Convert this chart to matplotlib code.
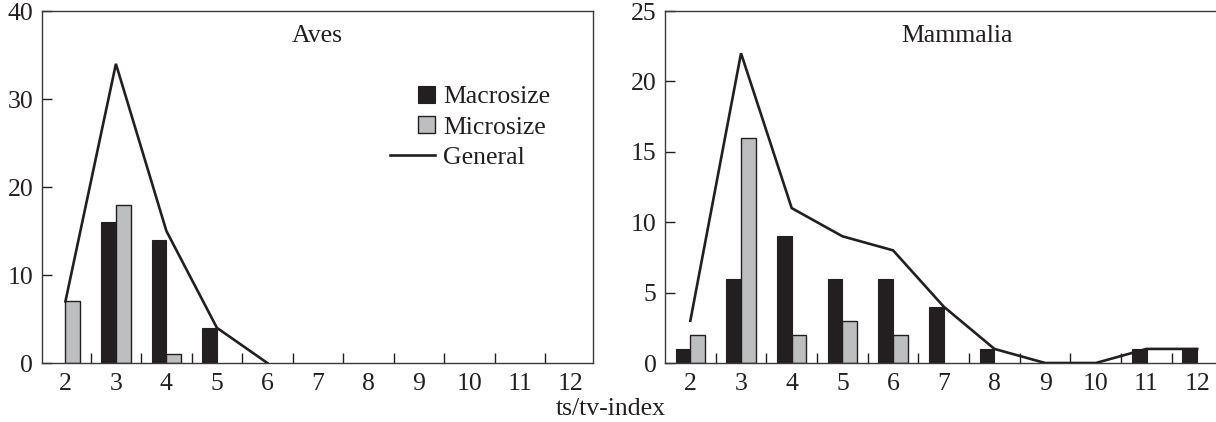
import numpy as np
import matplotlib
matplotlib.use("Agg")
import matplotlib.pyplot as plt
from matplotlib.patches import Rectangle, Patch
from matplotlib.lines import Line2D
from matplotlib.legend_handler import HandlerPatch

# ---- data ----
x_index = [2, 3, 4, 5, 6, 7, 8, 9, 10, 11, 12]
aves_macro = [0, 16, 14, 4, 0, 0, 0, 0, 0, 0, 0]
aves_micro = [7, 18, 1, 0, 0, 0, 0, 0, 0, 0, 0]
aves_general_x = [2, 3, 4, 5, 6]
aves_general = [7, 34, 15, 4, 0]

mam_macro = [1, 6, 9, 6, 6, 4, 1, 0, 0, 1, 1]
mam_micro = [2, 16, 2, 3, 2, 0, 0, 0, 0, 0, 0]
mam_general_x = [2, 3, 4, 5, 6, 7, 8, 9, 10, 11, 12]
mam_general = [3, 22, 11, 9, 8, 4, 1, 0, 0, 1, 1]

titles = ["Aves", "Mammalia"]
xlabel = "ts/tv-index"

# ---- style ----
DARK = "#231f20"
GRAY = "#bcbec0"
FS = 18.5
plt.rcParams['font.family'] = ['Liberation Serif', 'DejaVu Serif']
plt.rcParams['text.color'] = DARK

W, H = 1216, 422
fig = plt.figure(figsize=(W / 100, H / 100), dpi=100)

def px_axes(l, r, t, b):
    return fig.add_axes([l / W, 1 - b / H, (r - l) / W, (b - t) / H])

ax1 = px_axes(41.7, 593, 11, 363)
ax2 = px_axes(665, 1220, 11, 363)

bw = 0.29

def draw(ax, macro, micro, gx, gy, ymax, yticks, title, tx, xmin):
    xs = np.array(x_index, dtype=float)
    ma = np.array(macro, dtype=float)
    mi = np.array(micro, dtype=float)
    m1 = ma > 0
    m2 = mi > 0
    ax.bar(xs[m1] - bw, ma[m1], width=bw, align='edge',
           color=DARK, edgecolor=DARK, linewidth=0.8, zorder=2)
    ax.bar(xs[m2], mi[m2], width=bw, align='edge',
           color=GRAY, edgecolor=DARK, linewidth=1.0, zorder=2)
    ax.plot(gx, gy, color=DARK, lw=1.9, zorder=3, solid_joinstyle='miter')
    ax.set_ylim(0, ymax)
    ax.set_xlim(xmin, 12.45)
    ax.set_xticks(x_index)
    ax.set_xticks(np.arange(2.5, 12, 1.0), minor=True)
    ax.set_yticks(yticks)
    ax.tick_params(axis='x', which='major', length=0, pad=7, labelsize=FS, labelcolor=DARK)
    ax.tick_params(axis='x', which='minor', direction='in', length=7, width=1, color=DARK)
    ax.tick_params(axis='y', which='major', direction='in', length=7, width=1, color=DARK,
                   pad=6, labelsize=FS, labelcolor=DARK)
    for s in ax.spines.values():
        s.set_color('#3a3a3a')
        s.set_linewidth(1.0)
    ax.text(tx, 0.928, title, transform=ax.transAxes, ha='center', va='center', fontsize=FS)

draw(ax1, aves_macro, aves_micro, aves_general_x, aves_general, 40, [0, 10, 20, 30, 40], titles[0], 0.5, 1.53)
draw(ax2, mam_macro, mam_micro, mam_general_x, mam_general, 25, [0, 5, 10, 15, 20, 25], titles[1], 0.526, 1.5)


class SquareHandler(HandlerPatch):
    def create_artists(self, legend, orig_handle, xdescent, ydescent, width, height, fontsize, trans):
        s = height * 0.95
        p = Rectangle((width - s - xdescent, -ydescent + (height - s) / 2), s, s)
        self.update_prop(p, orig_handle, legend)
        p.set_transform(trans)
        return [p]


h_macro = Patch(facecolor=DARK, edgecolor=DARK, linewidth=0.8)
h_micro = Patch(facecolor=GRAY, edgecolor=DARK, linewidth=1.0)
h_gen = Line2D([], [], color=DARK, lw=1.9)
leg = ax1.legend([h_macro, h_micro, h_gen], ["Macrosize", "Microsize", "General"],
                 handler_map={Patch: SquareHandler()},
                 loc='upper left',
                 bbox_to_anchor=(390 / W, 1 - 85.5 / H), bbox_transform=fig.transFigure,
                 frameon=False, fontsize=FS, borderpad=0, borderaxespad=0,
                 handlelength=1.75, handletextpad=0.31, labelspacing=0.28)

fig.text(611 / W, 1 - 409 / H, xlabel, ha='center', va='center', fontsize=FS)

fig.savefig("out.png", dpi=100)
